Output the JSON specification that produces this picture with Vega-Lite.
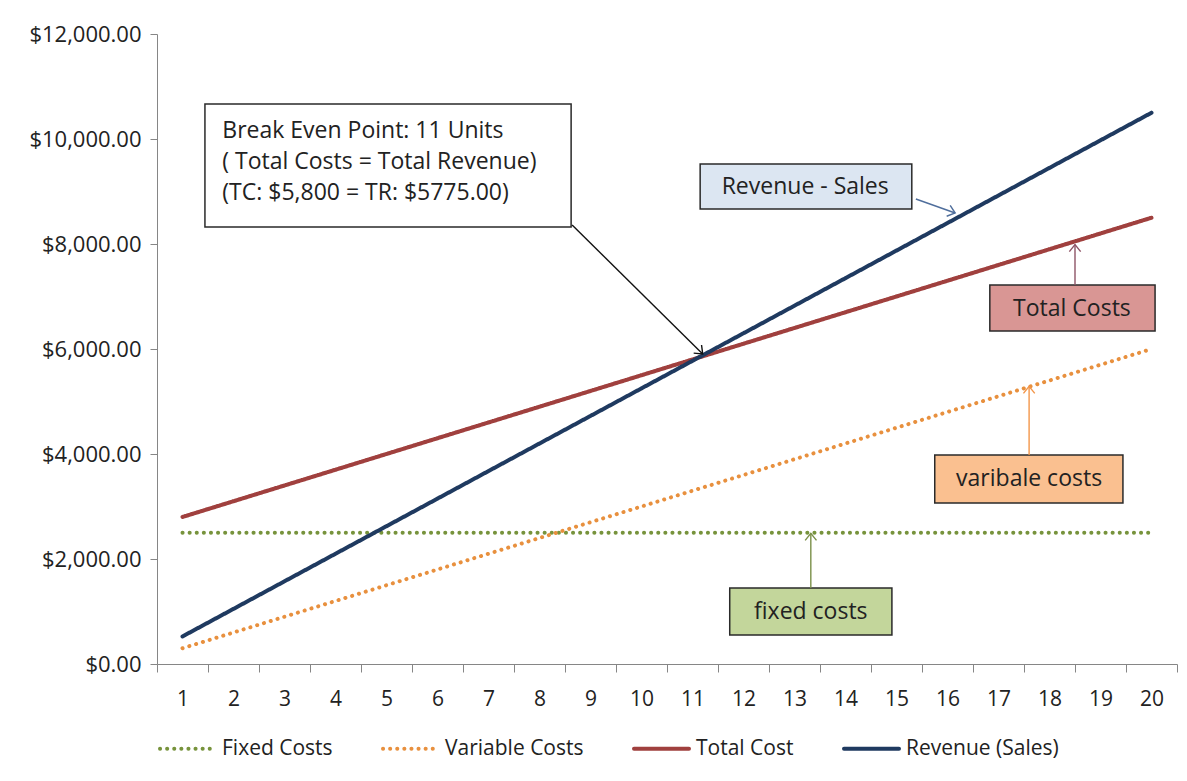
{
  "$schema": "https://vega.github.io/schema/vega-lite/v6.json",
  "width": 1020,
  "height": 630,
  "autosize": {"type": "none"},
  "padding": {"left": 157, "top": 34, "right": 10, "bottom": 117},
  "background": "white",
  "config": {"view": {"stroke": null}, "font": "Open Sans"},
  "datasets": {
    "lines": [
      {"unit": 1, "Fixed Costs": 2500, "Variable Costs": 300, "Total Cost": 2800, "Revenue (Sales)": 525},
      {"unit": 2, "Fixed Costs": 2500, "Variable Costs": 600, "Total Cost": 3100, "Revenue (Sales)": 1050},
      {"unit": 3, "Fixed Costs": 2500, "Variable Costs": 900, "Total Cost": 3400, "Revenue (Sales)": 1575},
      {"unit": 4, "Fixed Costs": 2500, "Variable Costs": 1200, "Total Cost": 3700, "Revenue (Sales)": 2100},
      {"unit": 5, "Fixed Costs": 2500, "Variable Costs": 1500, "Total Cost": 4000, "Revenue (Sales)": 2625},
      {"unit": 6, "Fixed Costs": 2500, "Variable Costs": 1800, "Total Cost": 4300, "Revenue (Sales)": 3150},
      {"unit": 7, "Fixed Costs": 2500, "Variable Costs": 2100, "Total Cost": 4600, "Revenue (Sales)": 3675},
      {"unit": 8, "Fixed Costs": 2500, "Variable Costs": 2400, "Total Cost": 4900, "Revenue (Sales)": 4200},
      {"unit": 9, "Fixed Costs": 2500, "Variable Costs": 2700, "Total Cost": 5200, "Revenue (Sales)": 4725},
      {"unit": 10, "Fixed Costs": 2500, "Variable Costs": 3000, "Total Cost": 5500, "Revenue (Sales)": 5250},
      {"unit": 11, "Fixed Costs": 2500, "Variable Costs": 3300, "Total Cost": 5800, "Revenue (Sales)": 5775},
      {"unit": 12, "Fixed Costs": 2500, "Variable Costs": 3600, "Total Cost": 6100, "Revenue (Sales)": 6300},
      {"unit": 13, "Fixed Costs": 2500, "Variable Costs": 3900, "Total Cost": 6400, "Revenue (Sales)": 6825},
      {"unit": 14, "Fixed Costs": 2500, "Variable Costs": 4200, "Total Cost": 6700, "Revenue (Sales)": 7350},
      {"unit": 15, "Fixed Costs": 2500, "Variable Costs": 4500, "Total Cost": 7000, "Revenue (Sales)": 7875},
      {"unit": 16, "Fixed Costs": 2500, "Variable Costs": 4800, "Total Cost": 7300, "Revenue (Sales)": 8400},
      {"unit": 17, "Fixed Costs": 2500, "Variable Costs": 5100, "Total Cost": 7600, "Revenue (Sales)": 8925},
      {"unit": 18, "Fixed Costs": 2500, "Variable Costs": 5400, "Total Cost": 7900, "Revenue (Sales)": 9450},
      {"unit": 19, "Fixed Costs": 2500, "Variable Costs": 5700, "Total Cost": 8200, "Revenue (Sales)": 9975},
      {"unit": 20, "Fixed Costs": 2500, "Variable Costs": 6000, "Total Cost": 8500, "Revenue (Sales)": 10500}
    ],
    "boxes": [
      {"series": "Break Even", "x": 1.44, "x2": 8.62, "y": 10667, "y2": 8324},
      {"series": "Revenue (Sales)", "x": 11.15, "x2": 15.3, "y": 9524, "y2": 8667},
      {"series": "Total Cost", "x": 16.83, "x2": 20.07, "y": 7219, "y2": 6343},
      {"series": "Variable Costs", "x": 15.75, "x2": 19.44, "y": 3981, "y2": 3067},
      {"series": "Fixed Costs", "x": 11.73, "x2": 14.91, "y": 1448, "y2": 552}
    ],
    "arrows": [
      {"series": "Break Even", "x": 8.64, "y": 8362, "x2": 11.2, "y2": 5905, "angle": 44},
      {"series": "Revenue (Sales)", "x": 15.38, "y": 8857, "x2": 16.15, "y2": 8590, "angle": 18},
      {"series": "Total Cost", "x": 18.5, "y": 7219, "x2": 18.5, "y2": 7990, "angle": 270},
      {"series": "Variable Costs", "x": 17.6, "y": 3981, "x2": 17.6, "y2": 5290, "angle": 270},
      {"series": "Fixed Costs", "x": 13.32, "y": 1448, "x2": 13.32, "y2": 2490, "angle": 270}
    ],
    "beText": [
      {"x": 1.78, "y": 10153, "text": "Break Even Point: 11 Units"},
      {"x": 1.78, "y": 9562, "text": "( Total Costs = Total Revenue)"},
      {"x": 1.78, "y": 8972, "text": "(TC: $5,800  = TR: $5775.00)"}
    ],
    "labels": [
      {"x": 13.21, "y": 9086, "text": "Revenue - Sales"},
      {"x": 18.44, "y": 6762, "text": "Total Costs"},
      {"x": 17.6, "y": 3524, "text": "varibale costs"},
      {"x": 13.32, "y": 990, "text": "fixed costs"}
    ]
  },
  "layer": [
    {
      "data": {"name": "lines"},
      "transform": [
        {"fold": ["Fixed Costs", "Variable Costs", "Total Cost", "Revenue (Sales)"], "as": ["series", "value"]}
      ],
      "mark": {"type": "line", "strokeWidth": 4, "strokeCap": "round"},
      "encoding": {
        "x": {
          "field": "unit", "type": "ordinal",
          "scale": {"type": "band", "paddingInner": 0, "paddingOuter": 0},
          "axis": {
            "title": null, "labelAngle": 0, "tickBand": "extent", "tickSize": 8,
            "labelPadding": 16, "labelFontSize": 21, "labelColor": "#222222",
            "domainColor": "#868686", "tickColor": "#868686", "grid": false,
            "labelFont": "Open Sans"
          }
        },
        "y": {
          "field": "value", "type": "quantitative",
          "scale": {"domain": [0, 12000]},
          "axis": {
            "title": null, "values": [0, 2000, 4000, 6000, 8000, 10000, 12000],
            "format": "$,.2f", "tickSize": 7, "labelPadding": 9, "labelFontSize": 22,
            "labelColor": "#222222", "domainColor": "#868686", "tickColor": "#868686",
            "grid": false, "labelFont": "Open Sans"
          }
        },
        "color": {
          "field": "series", "type": "nominal",
          "scale": {
            "domain": ["Fixed Costs", "Variable Costs", "Total Cost", "Revenue (Sales)"],
            "range": ["#77933C", "#E8903E", "#A0403E", "#1F3A60"]
          },
          "legend": {
            "title": null, "orient": "none", "legendX": 1, "legendY": 685,
            "direction": "horizontal", "symbolType": "stroke", "symbolSize": 3025,
            "symbolStrokeWidth": 4, "labelFontSize": 21, "labelFont": "Open Sans",
            "labelColor": "#222222", "columnPadding": 42, "labelOffset": 5,
            "encode": {"symbols": {"update": {"strokeCap": {"value": "round"}}}}
          }
        },
        "strokeDash": {
          "field": "series", "type": "nominal",
          "scale": {
            "domain": ["Fixed Costs", "Variable Costs", "Total Cost", "Revenue (Sales)"],
            "range": [[0.1, 7], [0.1, 7], [1, 0], [1, 0]]
          },
          "legend": {
            "title": null, "orient": "none", "legendX": 1, "legendY": 685,
            "direction": "horizontal", "symbolType": "stroke", "symbolSize": 3025,
            "symbolStrokeWidth": 4, "labelFontSize": 21, "labelFont": "Open Sans",
            "labelColor": "#222222", "columnPadding": 42, "labelOffset": 5,
            "encode": {"symbols": {"update": {"strokeCap": {"value": "round"}}}}
          }
        }
      }
    },
    {
      "layer": [
        {
          "data": {"name": "boxes"},
          "mark": {"type": "rect", "stroke": "#2a2a2a", "strokeWidth": 1.5},
          "encoding": {
            "x": {"field": "x", "type": "quantitative", "scale": {"domain": [0.5, 20.5]}, "axis": null},
            "x2": {"field": "x2"},
            "y": {"field": "y", "type": "quantitative", "scale": {"domain": [0, 12000]}, "axis": null},
            "y2": {"field": "y2"},
            "fill": {
              "field": "series", "type": "nominal", "legend": null,
              "scale": {
                "domain": ["Break Even", "Revenue (Sales)", "Total Cost", "Variable Costs", "Fixed Costs"],
                "range": ["#FFFFFF", "#DCE6F2", "#D99694", "#FAC090", "#C3D69B"]
              }
            }
          }
        },
        {
          "data": {"name": "arrows"},
          "mark": {"type": "rule", "strokeWidth": 1.4},
          "encoding": {
            "x": {"field": "x", "type": "quantitative", "scale": {"domain": [0.5, 20.5]}, "axis": null},
            "x2": {"field": "x2"},
            "y": {"field": "y", "type": "quantitative", "scale": {"domain": [0, 12000]}, "axis": null},
            "y2": {"field": "y2"},
            "stroke": {
              "field": "series", "type": "nominal", "legend": null,
              "scale": {
                "domain": ["Break Even", "Revenue (Sales)", "Total Cost", "Variable Costs", "Fixed Costs"],
                "range": ["#111111", "#4F6E9C", "#8E5466", "#F3964A", "#7A8F48"]
              }
            }
          }
        },
        {
          "data": {"name": "arrows"},
          "mark": {"type": "point", "shape": "M-1,-0.8L0,0L-1,0.8", "filled": false, "size": 200, "strokeWidth": 1.4, "opacity": 1},
          "encoding": {
            "x": {"field": "x2", "type": "quantitative", "scale": {"domain": [0.5, 20.5]}, "axis": null},
            "y": {"field": "y2", "type": "quantitative", "scale": {"domain": [0, 12000]}, "axis": null},
            "angle": {"field": "angle", "type": "quantitative", "scale": null},
            "stroke": {
              "field": "series", "type": "nominal", "legend": null,
              "scale": {
                "domain": ["Break Even", "Revenue (Sales)", "Total Cost", "Variable Costs", "Fixed Costs"],
                "range": ["#111111", "#4F6E9C", "#8E5466", "#F3964A", "#7A8F48"]
              }
            }
          }
        },
        {
          "data": {"name": "beText"},
          "mark": {"type": "text", "align": "left", "baseline": "middle", "fontSize": 23, "font": "Open Sans", "color": "#222222"},
          "encoding": {
            "x": {"field": "x", "type": "quantitative", "scale": {"domain": [0.5, 20.5]}, "axis": null},
            "y": {"field": "y", "type": "quantitative", "scale": {"domain": [0, 12000]}, "axis": null},
            "text": {"field": "text"}
          }
        },
        {
          "data": {"name": "labels"},
          "mark": {"type": "text", "align": "center", "baseline": "middle", "fontSize": 23, "font": "Open Sans", "color": "#222222"},
          "encoding": {
            "x": {"field": "x", "type": "quantitative", "scale": {"domain": [0.5, 20.5]}, "axis": null},
            "y": {"field": "y", "type": "quantitative", "scale": {"domain": [0, 12000]}, "axis": null},
            "text": {"field": "text"}
          }
        }
      ]
    }
  ],
  "resolve": {"scale": {"x": "independent", "y": "independent"}}
}
